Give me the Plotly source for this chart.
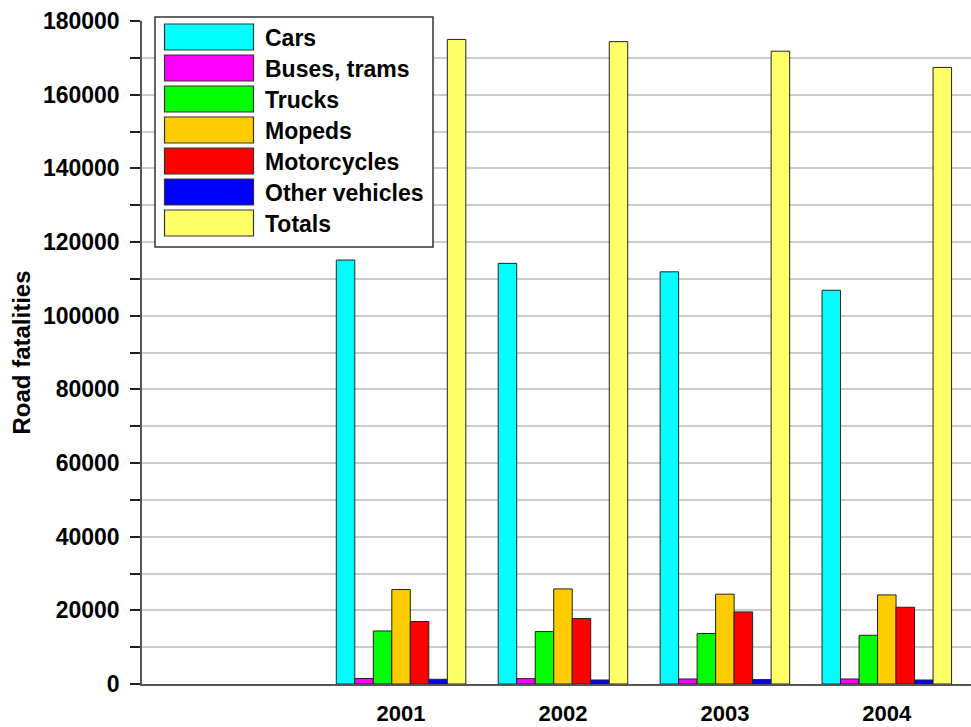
import plotly.graph_objects as go

years = ["2001", "2002", "2003", "2004"]
series_names = ["Cars", "Buses, trams", "Trucks", "Mopeds", "Motorcycles", "Other vehicles", "Totals"]
cars = [115100, 114200, 111900, 106900]
buses_trams = [1500, 1450, 1360, 1360]
trucks = [14400, 14240, 13700, 13230]
mopeds = [25650, 25820, 24380, 24190]
motorcycles = [16960, 17770, 19570, 20840]
other_vehicles = [1280, 1090, 1200, 1090]
totals = [175000, 174400, 171800, 167400]
series_values = [cars, buses_trams, trucks, mopeds, motorcycles, other_vehicles, totals]
colors = ["#00FFFF", "#FF00FF", "#00FF00", "#FFCC00", "#FF0000", "#0000FF", "#FFFF66"]
y_ticks = list(range(0, 180001, 20000))
y_tick_labels = [str(v) for v in y_ticks]

W, H = 971, 727
ML, MR, MT, MB = 142, 0, 21, 43
FONT = "Liberation Sans, Arial, sans-serif"

fig = go.Figure()
for name, vals, col in zip(series_names, series_values, colors):
    fig.add_trace(go.Bar(x=years, y=vals, name=name, marker=dict(color=col, line=dict(color="#222222", width=1)),
                         showlegend=False))

pw = W - ML - MR
ph = H - MT - MB
def px_x(x):
    return (x - ML) / pw
def px_y(y):
    return (H - MB - y) / ph

shapes = []
annotations = []
shapes.append(dict(type="rect", xref="paper", yref="paper", x0=px_x(155), x1=px_x(433), y0=px_y(247), y1=px_y(17),
                   fillcolor="white", line=dict(color="#333333", width=1.5), layer="above"))
for i, (name, col) in enumerate(zip(series_names, colors)):
    top = 24 + 31 * i
    shapes.append(dict(type="rect", xref="paper", yref="paper", x0=px_x(164.5), x1=px_x(253.5),
                       y0=px_y(top + 26), y1=px_y(top), fillcolor=col, line=dict(color="#333333", width=1.2), layer="above"))
    annotations.append(dict(xref="paper", yref="paper", x=px_x(263), y=px_y(top + 14), text="<b>%s</b>" % name,
                            showarrow=False, xanchor="left", yanchor="middle", font=dict(size=23, color="black", family=FONT)))

fig.update_layout(
    width=W, height=H,
    margin=dict(l=ML, r=MR, t=MT, b=MB, pad=0, autoexpand=False),
    paper_bgcolor="white", plot_bgcolor="white",
    barmode="group", bargap=0.2, bargroupgap=0,
    font=dict(family=FONT, color="black"),
    shapes=shapes, annotations=annotations,
    xaxis=dict(type="category", range=[-1.6, 3.52], showline=True, linecolor="#555555", linewidth=1.5,
               ticks="", showgrid=False, tickfont=dict(size=22, family=FONT, color="black", weight="bold"),
               ticklabelstandoff=9, automargin=False),
    yaxis=dict(range=[0, 180000], tickvals=y_ticks, ticktext=y_tick_labels, ticks="outside", ticklen=10,
               tickcolor="#222222", tickwidth=1.5, automargin=False,
               showline=True, linecolor="#555555", linewidth=1.5, showgrid=True, gridcolor="#cccccc", gridwidth=1.5,
               tickfont=dict(size=23, family=FONT, color="black", weight="bold"), ticklabelstandoff=6,
               title=dict(text="<b>Road fatalities</b>", font=dict(size=24, family=FONT, color="black"), standoff=6),
               minor=dict(dtick=10000, ticks="outside", ticklen=10, tickcolor="#222222", tickwidth=1.5,
                          showgrid=True, gridcolor="#cccccc", gridwidth=1.5),
               zeroline=False),
)

fig.write_html("out.html")
